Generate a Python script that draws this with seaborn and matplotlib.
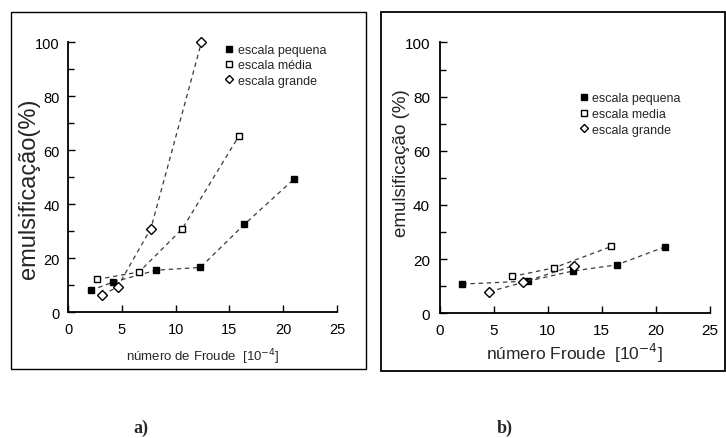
import matplotlib
matplotlib.use("Agg")
import matplotlib.pyplot as plt
import seaborn as sns
from matplotlib.patches import Rectangle
from matplotlib.ticker import MultipleLocator

# ---- data: panel a) ----
a_peq_x = [2.1, 4.2, 8.2, 12.3, 16.4, 21.0]
a_peq_y = [8.0, 11.1, 15.5, 16.5, 32.5, 49.2]
a_med_x = [2.7, 6.6, 10.6, 15.9]
a_med_y = [12.1, 14.8, 30.7, 65.3]
a_gra_x = [3.2, 4.6, 7.7, 12.4]
a_gra_y = [6.3, 9.3, 30.9, 99.9]

# ---- data: panel b) ----
b_peq_x = [2.1, 8.2, 12.3, 16.4, 20.9]
b_peq_y = [10.8, 11.9, 15.6, 17.9, 24.6]
b_med_x = [6.7, 10.6, 15.9]
b_med_y = [13.6, 16.8, 24.7]
b_gra_x = [4.6, 7.7, 12.4]
b_gra_y = [8.0, 11.4, 17.6]

x_ticks = [0, 5, 10, 15, 20, 25]
y_ticks = [0, 20, 40, 60, 80, 100]

sns.set_theme(style="ticks")
plt.rcParams['font.family'] = ['Liberation Sans', 'DejaVu Sans']

fig = plt.figure(figsize=(7.26, 4.39), dpi=100)

ax_a = fig.add_axes([0.0937, 0.287, 0.3705, 0.615])
ax_b = fig.add_axes([0.6056, 0.284, 0.372, 0.617])

def draw(ax, series, legend_labels, tick_fs, ypad, leg_fs, leg_anchor,
         spacing, textpad):
    handles = []
    styles = [
        dict(marker='s', markerfacecolor='black', markeredgecolor='black', markersize=5),
        dict(marker='s', markerfacecolor='white', markeredgecolor='black', markersize=5),
        dict(marker='D', markerfacecolor='white', markeredgecolor='black', markersize=5),
    ]
    for (xs, ys), st, lab in zip(series, styles, legend_labels):
        sns.lineplot(x=xs, y=ys, ax=ax, color='#3a3a3a', linewidth=0.9,
                     dashes=False, linestyle=(0, (3.5, 3)),
                     markeredgewidth=1.0, clip_on=False, zorder=3,
                     sort=True, **st)
        h, = ax.plot([], [], linestyle='none', color='black',
                     markeredgewidth=1.0,
                     **{k: (v if k != 'markersize' else 4.5) for k, v in st.items()})
        handles.append(h)
    ax.set_xlim(0, 25)
    ax.set_ylim(0, 100)
    ax.set_xticks(x_ticks)
    ax.set_yticks(y_ticks)
    ax.yaxis.set_minor_locator(MultipleLocator(10))
    ax.tick_params(axis='both', which='both', direction='in', length=5,
                   width=1.0, labelsize=tick_fs, color='black',
                   labelcolor='black')
    ax.tick_params(axis='x', which='major', pad=7)
    ax.tick_params(axis='y', which='major', pad=ypad)
    ax.tick_params(axis='y', which='minor', length=4)
    sns.despine(ax=ax)
    for s in ['left', 'bottom']:
        ax.spines[s].set_linewidth(1.3)
        ax.spines[s].set_color('black')
    ax.set_facecolor('white')
    leg = ax.legend(handles, legend_labels, loc='upper left',
                    bbox_to_anchor=leg_anchor, frameon=False,
                    fontsize=leg_fs, handlelength=0.6, handletextpad=textpad,
                    labelspacing=spacing, borderaxespad=0)
    return leg

draw(ax_a, [(a_peq_x, a_peq_y), (a_med_x, a_med_y), (a_gra_x, a_gra_y)],
     ['escala pequena', 'escala média', 'escala grande'], 10.5, 6, 9,
     (0.565, 1.01), 0.25, 0.4)
draw(ax_b, [(b_peq_x, b_peq_y), (b_med_x, b_med_y), (b_gra_x, b_gra_y)],
     ['escala pequena', 'escala media', 'escala grande'], 11, 7, 9,
     (0.503, 0.835), 0.3, 0.3)

ax_a.set_ylabel('emulsificação(%)', fontsize=17)
ax_a.yaxis.set_label_coords(-0.104, 0.46)
ax_a.set_xlabel('número de Froude  [10$^{-4}$]', fontsize=9.5, labelpad=8)
ax_b.set_ylabel('emulsificação (%)', fontsize=13.5)
ax_b.yaxis.set_label_coords(-0.11, 0.558)
ax_b.set_xlabel('número Froude  [10$^{-4}$]', fontsize=12.5, labelpad=3)

# panel frames
fig.add_artist(Rectangle((0.015, 0.157), 0.489, 0.813, transform=fig.transFigure,
                         fill=False, edgecolor='black', linewidth=1.0))
fig.add_artist(Rectangle((0.525, 0.153), 0.473, 0.817, transform=fig.transFigure,
                         fill=False, edgecolor='black', linewidth=1.3))

fig.text(141 / 726, 1 - 428 / 439, 'a)', fontsize=13, fontweight='bold',
         family='Liberation Serif', ha='center', va='center')
fig.text(505 / 726, 1 - 428 / 439, 'b)', fontsize=13, fontweight='bold',
         family='Liberation Serif', ha='center', va='center')

fig.savefig('out.png', dpi=100, facecolor='white')
